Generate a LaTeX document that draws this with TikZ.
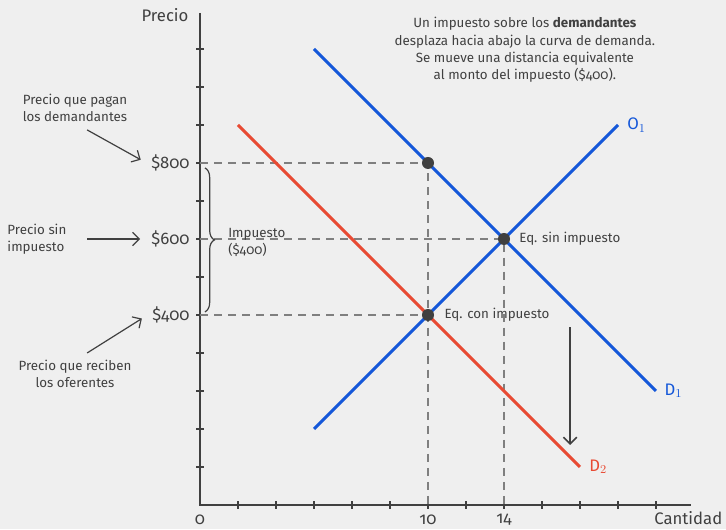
\documentclass[tikz,border=0pt]{standalone}
\usepackage{fontspec}
\setmainfont[Numbers=OldStyle]{Fira Sans}
\usetikzlibrary{arrows.meta,decorations.pathreplacing}
\definecolor{bgc}{HTML}{EFEFEF}
\definecolor{ink}{HTML}{404040}
\definecolor{guidegray}{HTML}{7F7F7F}
\definecolor{ofblue}{HTML}{1457D9}
\definecolor{dered}{HTML}{E84A33}

\begin{document}
\begin{tikzpicture}[x=1cm,y=1cm,
  txt/.style={text=ink,font=\fontsize{10}{12.5}\selectfont,align=center},
  big/.style={text=ink,font=\fontsize{12.5}{15}\selectfont},
  axis/.style={draw=ink,line width=1.1pt},
  curve/.style={line width=2.3pt},
  guide/.style={draw=guidegray,line width=0.9pt,dash pattern=on 6pt off 4.5pt},
  dot/.style={circle,fill=ink,inner sep=0pt,minimum size=9pt},
  pointer/.style={draw=ink,line width=0.9pt,-{Straight Barb[length=5pt,width=10pt]}}]
\useasboundingbox (-5.263,-0.632) rectangle (13.842,13.289);
\fill[bgc] (-5.263,-0.632) rectangle (13.842,13.289);

% axes
\coordinate (o) at (0,0);
\coordinate (ytop) at (0,12.95);
\coordinate (xend) at (12.92,0);
\draw[axis] (ytop) -- (o) -- (xend);
\foreach \k in {1,...,12} {
  \draw[axis] (-0.1,\k) -- (0.1,\k);
  \draw[axis] (\k,-0.1) -- (\k,0.1);
}
\node[big,anchor=east] (precio) at (-0.18,12.9) {Precio};
\node[big] (cantidad) at (12.85,-0.35) {Cantidad};
\node[big] (q0) at (0,-0.38) {0};
\node[big] (q10) at (6,-0.38) {10};
\node[big] (q14) at (8,-0.38) {14};

% points on the axes
\coordinate (y800) at (0,9);
\coordinate (y600) at (0,7);
\coordinate (y400) at (0,5);
\coordinate (x10) at (6,0);
\coordinate (x14) at (8,0);

% guides
\draw[guide] (y800) -- (6,9) -- (x10);
\draw[guide] (y600) -- (8,7) -- (x14);
\draw[guide] (y400) -- (6,5);

% curves
\coordinate (d1a) at (3,12);
\coordinate (d1b) at (12,3);
\coordinate (o1a) at (3,2);
\coordinate (o1b) at (11,10);
\coordinate (d2a) at (1,10);
\coordinate (d2b) at (10,1);
\draw[curve,ofblue] (d1a) -- (d1b);
\draw[curve,ofblue] (o1a) -- (o1b);
\draw[curve,dered] (d2a) -- (d2b);
\node[big,text=ofblue,anchor=west] (lo1) at (11.12,10) {O$_1$};
\node[big,text=ofblue,anchor=west] (ld1) at (12.1,3) {D$_1$};
\node[big,text=dered,anchor=west] (ld2) at (10.12,1) {D$_2$};

% equilibria
\node[dot] (pd) at (6,9) {};
\node[dot] (e0) at (8,7) {};
\node[dot] (e1) at (6,5) {};
\node[txt,anchor=west] (eqs) at (8.28,7) {Eq. sin impuesto};
\node[txt,anchor=west] (eqc) at (6.31,5) {Eq. con impuesto};

% shift of demand
\coordinate (sa) at (9.74,4.68);
\coordinate (sb) at (9.74,1.58);
\draw[pointer,line width=1.1pt] (sa) -- (sb);

% prices
\node[big,anchor=east] (l800) at (-0.15,9) {\$800};
\node[big,anchor=east] (l600) at (-0.15,7) {\$600};
\node[big,anchor=east] (l400) at (-0.15,5) {\$400};
\draw[draw=ink,line width=0.9pt,decorate,decoration={brace,amplitude=0.25cm}] (0.13,8.87) -- (0.13,5.08);
\node[txt,align=left,anchor=west] (imp) at (0.62,6.9) {Impuesto\\(\$400)};

% left labels
\node[txt] (pagan) at (-3.29,10.45) {Precio que pagan\\los demandantes};
\node[txt,align=left,anchor=west] (sin) at (-5.19,7) {Precio sin\\impuesto};
\node[txt] (reciben) at (-3.29,3.45) {Precio que reciben\\los oferentes};
\coordinate (t1) at (-2.97,9.87);
\coordinate (t2) at (-2.97,7);
\coordinate (t3) at (-2.97,4);
\draw[pointer,shorten >=5pt] (t1) -- (l800.west);
\draw[pointer,shorten >=5pt] (t2) -- (l600.west);
\draw[pointer,shorten >=5pt] (t3) -- (l400.west);

% note
\node[txt,font=\fontsize{10}{13}\selectfont] (note) at (8.55,11.97)
  {Un impuesto sobre los \textbf{demandantes}\\desplaza hacia abajo la curva de demanda.\\Se mueve una distancia equivalente\\al monto del impuesto (\$400).};
\end{tikzpicture}
\end{document}
